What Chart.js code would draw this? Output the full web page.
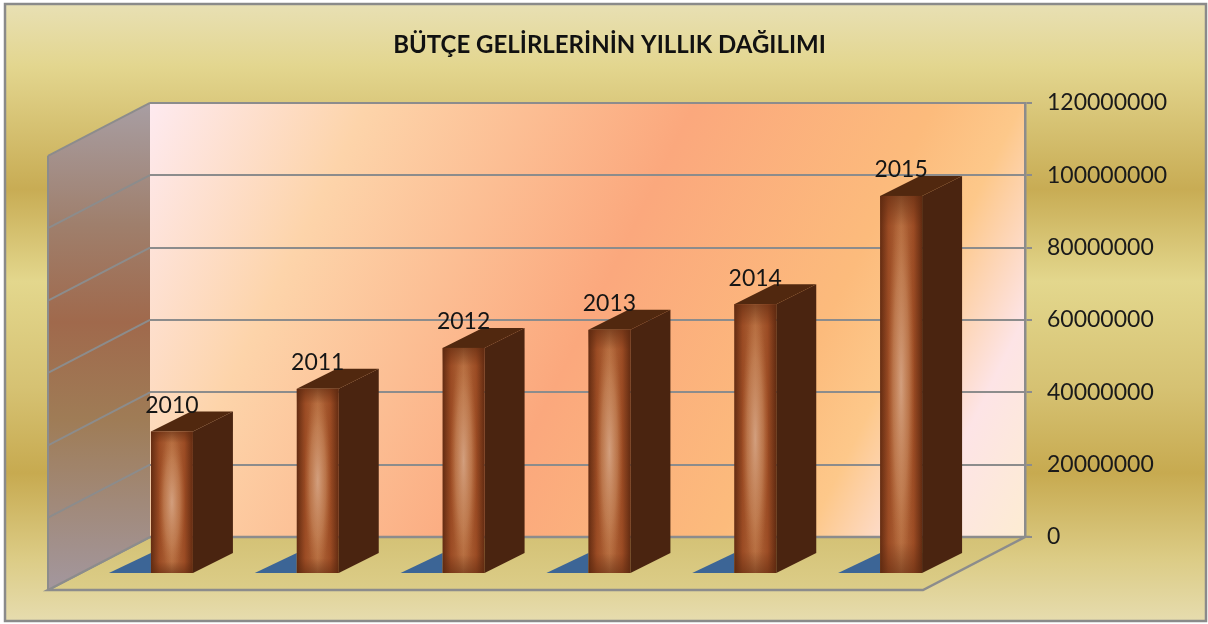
<!DOCTYPE html>
<html><head><meta charset="utf-8">
<script src="https://cdn.jsdelivr.net/npm/chart.js@4.4.1/dist/chart.umd.min.js"></script>
<style>html,body{margin:0;padding:0;background:#fff;}#wrap{width:1208px;height:624px;position:relative;}canvas{display:block;}</style>
</head><body><div id="wrap"><canvas id="c" width="1208" height="624" style="width:1208px;height:624px"></canvas></div>
<script>
const categories = ['2010', '2011', '2012', '2013', '2014', '2015'];
const revenues = [39100000, 50900000, 62200000, 67200000, 74300000, 104200000];
const yTickValues = [0, 20000000, 40000000, 60000000, 80000000, 100000000, 120000000];
const chartTitle = 'BÜTÇE GELİRLERİNİN YILLIK DAĞILIMI';

const W = 1208, H = 624;
const FLOOR_DX = -102, FLOOR_DY = 53;   // wall -> front floor edge
const FRONT_DX = -51, FRONT_DY = 36;    // wall -> bar front face
const DEPTH_DX = 40, DEPTH_DY = -20;    // bar depth vector
const GRID = '#8c8c8c';

const scenePlugin = {
  id: 'scene',
  beforeDraw(chart) {
    const ctx = chart.ctx, a = chart.chartArea, ys = chart.scales.y;
    ctx.save();
    ctx.fillStyle = '#fff'; ctx.fillRect(0, 0, W, H);
    const bg = ctx.createLinearGradient(0, 4, 0, 621);
    bg.addColorStop(0, '#e8e0b4'); bg.addColorStop(0.1, '#e3d68f');
    bg.addColorStop(0.3, '#c8ac54'); bg.addColorStop(0.45, '#e3d78d');
    bg.addColorStop(0.62, '#d6c273'); bg.addColorStop(0.76, '#c7aa50');
    bg.addColorStop(0.9, '#dccc86'); bg.addColorStop(1, '#e6dcae');
    ctx.fillStyle = bg; ctx.fillRect(5, 4, 1201, 617);
    ctx.strokeStyle = '#8a8a8a'; ctx.lineWidth = 2.5; ctx.strokeRect(5, 4, 1201, 617);

    const L = a.left, R = a.right, T = a.top, B = a.bottom;
    const bw = ctx.createLinearGradient(L, T, R, B);
    bw.addColorStop(0, '#feeaf0'); bw.addColorStop(0.2, '#fdd4aa');
    bw.addColorStop(0.5, '#fba87d'); bw.addColorStop(0.72, '#fcbb7c');
    bw.addColorStop(0.8, '#fdc88a'); bw.addColorStop(0.9, '#fde4e6');
    bw.addColorStop(1, '#fdecd2');
    ctx.fillStyle = bw; ctx.fillRect(L, T, R - L, B - T);
    ctx.beginPath();
    ctx.moveTo(L, B); ctx.lineTo(R, B);
    ctx.lineTo(R + FLOOR_DX, B + FLOOR_DY); ctx.lineTo(L + FLOOR_DX, B + FLOOR_DY);
    ctx.closePath();
    const fl = ctx.createLinearGradient(0, B, 0, B + FLOOR_DY);
    fl.addColorStop(0, '#d4c276'); fl.addColorStop(1, '#dccd88');
    ctx.fillStyle = fl; ctx.fill();
    ctx.strokeStyle = GRID; ctx.lineWidth = 2.5; ctx.stroke();
    ctx.beginPath();
    ctx.moveTo(L, T); ctx.lineTo(L, B);
    ctx.lineTo(L + FLOOR_DX, B + FLOOR_DY); ctx.lineTo(L + FLOOR_DX, T + FLOOR_DY);
    ctx.closePath();
    const lw = ctx.createLinearGradient(0, T, 0, B + FLOOR_DY);
    lw.addColorStop(0, '#a89ea3'); lw.addColorStop(0.25, '#9f7f6c');
    lw.addColorStop(0.45, '#a0694c'); lw.addColorStop(0.65, '#9f7c56');
    lw.addColorStop(1, '#a3979e');
    ctx.fillStyle = lw; ctx.fill();
    ctx.lineWidth = 2; ctx.strokeStyle = GRID;
    ctx.beginPath();
    ctx.moveTo(L + FLOOR_DX, B + FLOOR_DY); ctx.lineTo(L + FLOOR_DX, T + FLOOR_DY);
    ctx.stroke();
    ys.ticks.forEach(t => {
      const y = ys.getPixelForValue(t.value);
      ctx.beginPath(); ctx.moveTo(L, y); ctx.lineTo(L + FLOOR_DX, y + FLOOR_DY); ctx.stroke();
    });
    ctx.restore();
  },
  afterDatasetsDraw(chart) {
    const ctx = chart.ctx, meta = chart.getDatasetMeta(0);
    ctx.save();
    meta.data.forEach((el, i) => {
      const w = el.width;
      const l = el.x - w / 2 + FRONT_DX, r = el.x + w / 2 + FRONT_DX;
      const top = el.y + FRONT_DY, bot = el.base + FRONT_DY;
      ctx.fillStyle = '#3c6596';
      ctx.beginPath(); ctx.moveTo(l - w, bot); ctx.lineTo(l, bot); ctx.lineTo(l, bot + DEPTH_DY); ctx.closePath(); ctx.fill();
      ctx.fillStyle = '#4a2410';
      ctx.beginPath(); ctx.moveTo(r, top); ctx.lineTo(r + DEPTH_DX, top + DEPTH_DY);
      ctx.lineTo(r + DEPTH_DX, bot + DEPTH_DY); ctx.lineTo(r, bot); ctx.closePath(); ctx.fill();
      ctx.fillStyle = '#51280f';
      ctx.beginPath(); ctx.moveTo(l, top); ctx.lineTo(l + DEPTH_DX, top + DEPTH_DY);
      ctx.lineTo(r + DEPTH_DX, top + DEPTH_DY); ctx.lineTo(r, top); ctx.closePath(); ctx.fill();
      const g = ctx.createLinearGradient(l, 0, r, 0);
      g.addColorStop(0, '#642c12'); g.addColorStop(0.2, '#a24f26');
      g.addColorStop(0.5, '#bf7444'); g.addColorStop(0.8, '#a24f26');
      g.addColorStop(1, '#642c12');
      ctx.fillStyle = g; ctx.fillRect(l, top, r - l, bot - top);
      ctx.save();
      ctx.beginPath(); ctx.rect(l, top, r - l, bot - top); ctx.clip();
      const cx = (l + r) / 2, cy = (top + bot) / 2, hh = (bot - top) / 2;
      ctx.translate(cx, cy); ctx.scale(1, hh / ((r - l) * 0.32));
      const rg = ctx.createRadialGradient(0, 0, 0, 0, 0, (r - l) * 0.32);
      rg.addColorStop(0, 'rgba(224,172,138,1)'); rg.addColorStop(0.6, 'rgba(215,150,105,0.55)');
      rg.addColorStop(1, 'rgba(200,120,70,0)');
      ctx.fillStyle = rg; ctx.fillRect(-(r - l), -hh * 3, 2 * (r - l), hh * 6);
      ctx.restore();
      const vg = ctx.createLinearGradient(0, top, 0, bot);
      vg.addColorStop(0, 'rgba(90,40,15,0.6)'); vg.addColorStop(0.08, 'rgba(90,40,15,0.1)');
      vg.addColorStop(0.92, 'rgba(90,40,15,0.1)'); vg.addColorStop(1, 'rgba(90,40,15,0.55)');
      ctx.fillStyle = vg; ctx.fillRect(l, top, r - l, bot - top);
      ctx.fillStyle = '#151515';
      ctx.font = '23px Lato';
      ctx.textAlign = 'center'; ctx.textBaseline = 'middle';
      ctx.fillText(categories[i], (l + r) / 2, top - 26);
    });
    ctx.restore();
  }
};

new Chart(document.getElementById('c'), {
  type: 'bar',
  data: {
    labels: categories,
    datasets: [{ data: revenues, backgroundColor: 'rgba(0,0,0,0)', borderWidth: 0,
      barPercentage: 0.96, categoryPercentage: 0.3 }]
  },
  options: {
    responsive: false, animation: false, devicePixelRatio: 1,
    layout: { padding: { left: 11, right: 0, top: 0, bottom: 87 } },
    plugins: {
      legend: { display: false }, tooltip: { enabled: false },
      title: { display: true, text: chartTitle, color: '#111',
        font: { family: 'Lato', size: 24, weight: 'bold', lineHeight: 1.2 },
        padding: { top: 31, bottom: 43 } }
    },
    scales: {
      x: { display: false, grid: { display: false } },
      yLeft: {
        position: 'left', display: true,
        afterFit(s) { s.width = 139; },
        grid: { display: false, drawTicks: false }, border: { display: false },
        ticks: { display: false }
      },
      y: {
        position: 'right', min: 0, max: 120000000,
        afterBuildTicks(s) { s.ticks = yTickValues.map(v => ({ value: v })); },
        afterFit(s) { s.width = W - 1025; },
        grid: { color: GRID, lineWidth: 2, tickLength: 7, tickColor: GRID },
        border: { display: true, color: GRID, width: 2.5 },
        ticks: { color: '#1a1a1a', padding: 15, font: { family: 'Lato', size: 23 },
          callback: v => String(v) }
      }
    }
  },
  plugins: [scenePlugin]
});
</script>
</body></html>
